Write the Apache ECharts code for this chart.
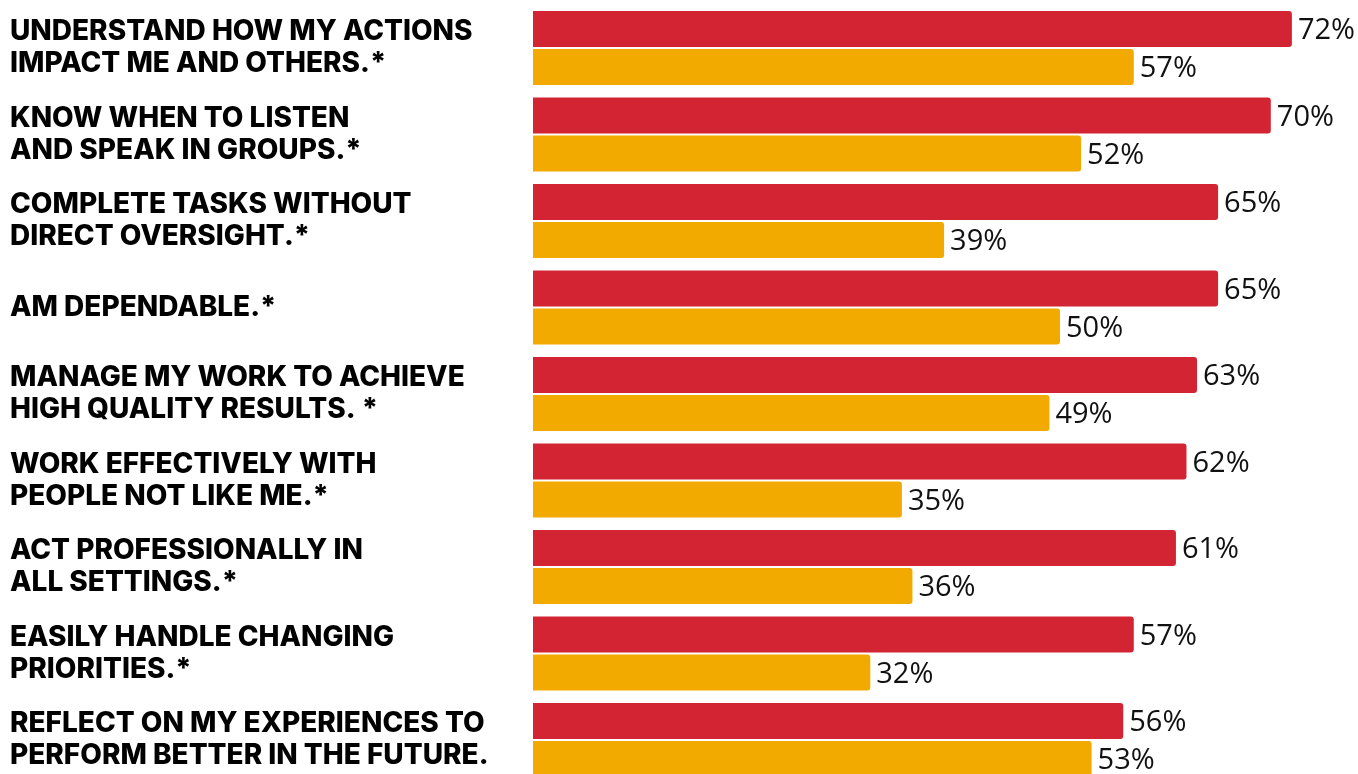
<!DOCTYPE html>
<html>
<head>
<meta charset="utf-8">
<script src="https://cdn.jsdelivr.net/npm/echarts@6/dist/echarts.min.js"></script>
<style>
  html, body { margin: 0; padding: 0; background: #ffffff; }
  #chart { width: 1358px; height: 774px; }
</style>
</head>
<body>
<div id="chart"></div>
<script>
// Statements, top to bottom
const categories = [
  'UNDERSTAND HOW MY ACTIONS\nIMPACT ME AND OTHERS.*',
  'KNOW WHEN TO LISTEN\nAND SPEAK IN GROUPS.*',
  'COMPLETE TASKS WITHOUT\nDIRECT OVERSIGHT.*',
  'AM DEPENDABLE.*',
  'MANAGE MY WORK TO ACHIEVE\nHIGH QUALITY RESULTS. *',
  'WORK EFFECTIVELY WITH\nPEOPLE NOT LIKE ME.*',
  'ACT PROFESSIONALLY IN\nALL SETTINGS.*',
  'EASILY HANDLE CHANGING\nPRIORITIES.*',
  'REFLECT ON MY EXPERIENCES TO\nPERFORM BETTER IN THE FUTURE.'
];

// Percent agreeing, first group (red) and second group (yellow)
const redValues = [72, 70, 65, 65, 63, 62, 61, 57, 56];
const yellowValues = [57, 52, 39, 50, 49, 35, 36, 32, 53];

const RED = '#D22433';
const YELLOW = '#F2AA00';

const chart = echarts.init(document.getElementById('chart'), null, { renderer: 'canvas' });

const valueLabel = {
  show: true,
  position: 'right',
  distance: 6,
  offset: [0, 2],
  formatter: '{c}%',
  fontFamily: '"Open Sans", Roboto, sans-serif',
  fontSize: 29,
  fontWeight: 400,
  color: '#111111'
};

chart.setOption({
  animation: false,
  backgroundColor: '#ffffff',
  grid: {
    left: 533,
    top: 4.75,
    width: 843.2,
    height: 778.5,
    outerBoundsMode: 'none',
    containLabel: false
  },
  xAxis: {
    type: 'value',
    min: 0,
    max: 80,
    show: false
  },
  yAxis: {
    type: 'category',
    data: categories,
    inverse: true,
    axisLine: { show: false },
    axisTick: { show: false },
    splitLine: { show: false },
    axisLabel: {
      align: 'left',
      margin: 523,
      fontFamily: 'Inter, "Open Sans", sans-serif',
      fontWeight: 800,
      fontSize: 28,
      lineHeight: 32,
      color: '#000000'
    }
  },
  series: [
    {
      type: 'bar',
      data: redValues,
      barWidth: 36,
      barGap: '5.6%',
      itemStyle: { color: RED, borderRadius: [0, 3, 3, 0] },
      label: valueLabel
    },
    {
      type: 'bar',
      data: yellowValues,
      barWidth: 36,
      itemStyle: { color: YELLOW, borderRadius: [0, 3, 3, 0] },
      label: valueLabel
    }
  ]
});
</script>
</body>
</html>
